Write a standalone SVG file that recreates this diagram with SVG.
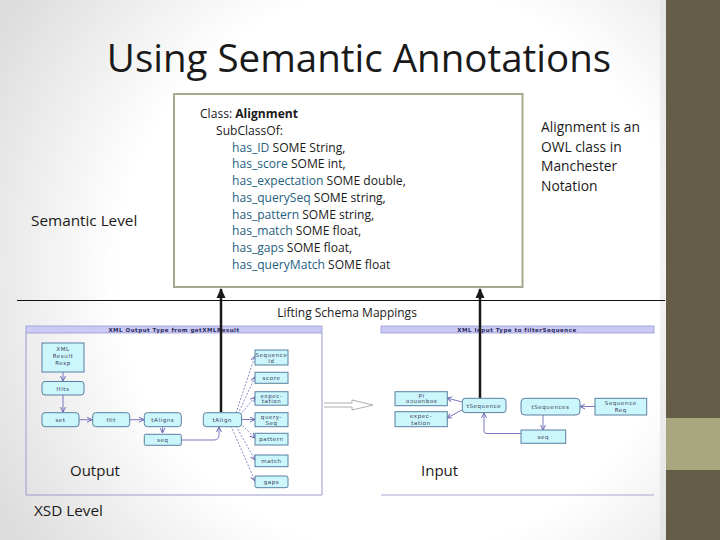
<svg xmlns="http://www.w3.org/2000/svg" width="720" height="540" viewBox="0 0 720 540">
<defs>
<radialGradient id="bg" cx="400" cy="270" r="470" gradientUnits="userSpaceOnUse">
<stop offset="0.6" stop-color="#ffffff"/>
<stop offset="1" stop-color="#dcdcdc"/>
</radialGradient>
<linearGradient id="strip" x1="0" y1="0" x2="0" y2="1">
<stop offset="0" stop-color="#e6e6e6"/>
<stop offset="0.5" stop-color="#f6f4f2"/>
<stop offset="1" stop-color="#e4e4e4"/>
</linearGradient>
<marker id="big" markerWidth="10" markerHeight="10" refX="9" refY="5" orient="auto" markerUnits="userSpaceOnUse">
<path d="M0,0.5 L10,5 L0,9.5 Z" fill="#1a1a1a"/>
</marker>
<marker id="sm" markerWidth="6" markerHeight="6" refX="5" refY="3" orient="auto" markerUnits="userSpaceOnUse">
<path d="M0,0.5 L5,3 L0,5.5" fill="none" stroke="#6a6ab4" stroke-width="1"/>
</marker>
</defs>
<style>
.t{font-family:"Open Sans","Liberation Sans",sans-serif;fill:#1a1a1a}
.p{fill:#1f5f80}
.n{fill:#cbf6fb;stroke:#5b7fa2;stroke-width:1}
.s{font-family:"DejaVu Sans",sans-serif;font-size:5.5px;fill:#3a3a5a;letter-spacing:0.6px;text-anchor:middle}
.c{fill:none;stroke:#6a6ab4;stroke-width:0.9}
.d{fill:none;stroke:#6a6ab4;stroke-width:0.8;stroke-dasharray:2 1.5}
.hdr{fill:#cacaf4;stroke:#9a9ad4;stroke-width:0.8}
.hd{font-family:"DejaVu Sans",sans-serif;font-size:5.5px;font-weight:bold;fill:#2a2a5a;letter-spacing:0.5px;text-anchor:middle}
.pan{fill:none;stroke:#9a9acc;stroke-width:1}
.bl{stroke:#1a1a1a;stroke-width:2.5;fill:none}
</style>
<rect width="720" height="540" fill="url(#bg)"/>
<rect x="660" y="0" width="6" height="540" fill="url(#strip)"/>
<rect x="666" y="0" width="54" height="540" fill="#655d48"/>
<rect x="666" y="418" width="54" height="52" fill="#a9a77f"/>

<text class="t" x="359" y="72" font-size="38.5" text-anchor="middle">Using Semantic Annotations</text>

<g id="owl-box">
<rect x="174" y="94" width="348.5" height="193" fill="#ffffff" stroke="#a8a890" stroke-width="2"/>
<text class="t" font-size="12.1">
<tspan x="200" y="118">Class: <tspan font-weight="bold">Alignment</tspan></tspan>
<tspan x="216" y="135">SubClassOf:</tspan>
<tspan x="232" y="151.5"><tspan class="p">has_ID</tspan> SOME String,</tspan>
<tspan x="232" y="168.3"><tspan class="p">has_score</tspan> SOME int,</tspan>
<tspan x="232" y="185"><tspan class="p">has_expectation</tspan> SOME double,</tspan>
<tspan x="232" y="201.8"><tspan class="p">has_querySeq</tspan> SOME string,</tspan>
<tspan x="232" y="218.5"><tspan class="p">has_pattern</tspan> SOME string,</tspan>
<tspan x="232" y="235.3"><tspan class="p">has_match</tspan> SOME float,</tspan>
<tspan x="232" y="252"><tspan class="p">has_gaps</tspan> SOME float,</tspan>
<tspan x="232" y="268.8"><tspan class="p">has_queryMatch</tspan> SOME float</tspan>
</text>
</g>

<g id="note">
<text class="t" font-size="13.8">
<tspan x="541" y="132">Alignment is an</tspan>
<tspan x="541" y="151.5">OWL class in</tspan>
<tspan x="541" y="171">Manchester</tspan>
<tspan x="541" y="190.5">Notation</tspan>
</text>
</g>

<text class="t" x="31" y="226" font-size="15.3" fill="#333">Semantic Level</text>
<line x1="17" y1="300.5" x2="665" y2="300.5" stroke="#111" stroke-width="1"/>
<text class="t" x="347" y="317" font-size="12" text-anchor="middle">Lifting Schema Mappings</text>

<g id="output-panel">
<rect class="hdr" x="26" y="326" width="296" height="7"/>
<text class="hd" x="174" y="331.5">XML Output Type from getXMLResult</text>
<path class="pan" d="M26,333 V495 H322 V333"/>
<text class="t" x="70" y="476" font-size="15">Output</text>
</g>

<g id="input-panel">
<rect class="hdr" x="381" y="326" width="273" height="7"/>
<text class="hd" x="517" y="331.5">XML Input Type to filterSequence</text>
<line x1="381" y1="495" x2="654" y2="495" stroke="#a8a8cc" stroke-width="1"/>
<text class="t" x="421" y="476" font-size="15">Input</text>
</g>

<text class="t" x="34" y="516" font-size="15.3" fill="#1f5f80">XSD Level</text>

<g id="connectors">
<path class="c" d="M63,372 V381" marker-end="url(#sm)"/>
<path class="c" d="M63,395 V412" marker-end="url(#sm)"/>
<path class="c" d="M79,419.7 H92" marker-end="url(#sm)"/>
<path class="c" d="M130,419.7 H144" marker-end="url(#sm)"/>
<path class="c" d="M162.5,427 V433" marker-end="url(#sm)"/>
<path class="c" d="M181,440 H214 Q219,440 219,435 V427" marker-end="url(#sm)"/>
<path class="d" d="M236,413 L255,356" marker-end="url(#sm)"/>
<path class="d" d="M238,414 L255,377" marker-end="url(#sm)"/>
<path class="d" d="M240,415 L255,397" marker-end="url(#sm)"/>
<path class="c" d="M241.5,419.5 H255" marker-end="url(#sm)"/>
<path class="d" d="M240,423 L255,438" marker-end="url(#sm)"/>
<path class="d" d="M236,426 L255,460" marker-end="url(#sm)"/>
<path class="d" d="M231,426 L255,481" marker-end="url(#sm)"/>
<path class="c" d="M462,402 L447,398" marker-end="url(#sm)"/>
<path class="c" d="M462,410 L447,418" marker-end="url(#sm)"/>
<path class="c" d="M595,406.5 H580" marker-end="url(#sm)"/>
<path class="c" d="M543,415 V430" marker-end="url(#sm)"/>
<path class="c" d="M521,433.5 H486 Q484,433.5 484,431 V413" marker-end="url(#sm)"/>
<path d="M324,403 H352 V400 L373,405 L352,410 V407 H324" fill="none" stroke="#9a9a9a" stroke-width="0.8"/>
<path class="bl" d="M221,412 V289" marker-end="url(#big)"/>
<path class="bl" d="M480,398 V289" marker-end="url(#big)"/>
</g>

<g id="n-xml"><rect class="n" x="42" y="343" width="42" height="29"/><text class="s"><tspan x="63" y="351">XML</tspan><tspan x="63" y="358">Result</tspan><tspan x="63" y="365">Resp</tspan></text></g>
<g id="n-hits"><rect class="n" x="42" y="381.5" width="42" height="13.5" rx="3"/><text class="s" x="63" y="390.5">Hits</text></g>
<g id="n-set"><rect class="n" x="42" y="412.7" width="37" height="14" rx="3"/><text class="s" x="60.5" y="421.8">set</text></g>
<g id="n-hit"><rect class="n" x="92.7" y="412.7" width="37" height="14" rx="3"/><text class="s" x="111.2" y="421.8">Hit</text></g>
<g id="n-taligns"><rect class="n" x="144.3" y="412.7" width="37" height="14" rx="3"/><text class="s" x="162.8" y="421.8">tAligns</text></g>
<g id="n-seq1"><rect class="n" x="144.3" y="434.3" width="37" height="11" rx="1"/><text class="s" x="162.8" y="442">seq</text></g>
<g id="n-talign"><rect class="n" x="203.3" y="412.7" width="38.3" height="14" rx="3"/><text class="s" x="222.4" y="421.8">tAlign</text></g>
<g id="n-seqid"><rect class="n" x="255" y="350" width="33" height="15"/><text class="s"><tspan x="271.5" y="356.5">Sequence</tspan><tspan x="271.5" y="362.5">Id</tspan></text></g>
<g id="n-score"><rect class="n" x="255" y="372.3" width="33" height="11"/><text class="s" x="271.5" y="380">score</text></g>
<g id="n-expec1"><rect class="n" x="255" y="391.7" width="33" height="13.5"/><text class="s"><tspan x="271.5" y="397.5">expec-</tspan><tspan x="271.5" y="403">tation</tspan></text></g>
<g id="n-qseq"><rect class="n" x="255" y="412.7" width="33" height="14"/><text class="s"><tspan x="271.5" y="418.5">query-</tspan><tspan x="271.5" y="424.5">Seq</tspan></text></g>
<g id="n-pattern"><rect class="n" x="255" y="433.3" width="33" height="11.7"/><text class="s" x="271.5" y="441.3">pattern</text></g>
<g id="n-match"><rect class="n" x="255" y="455" width="33" height="11.7"/><text class="s" x="271.5" y="463">match</text></g>
<g id="n-gaps"><rect class="n" x="255" y="476" width="33" height="11.7" rx="2"/><text class="s" x="271.5" y="484">gaps</text></g>

<g id="i-seqid"><rect class="n" x="395" y="391.7" width="52.3" height="14"/><text class="s" transform="rotate(180 421 398.7)"><tspan x="421" y="397">sequence</tspan><tspan x="421" y="403">id</tspan></text></g>
<g id="i-expec"><rect class="n" x="395" y="411.7" width="52.3" height="15"/><text class="s"><tspan x="421" y="418">expec-</tspan><tspan x="421" y="424.5">tation</tspan></text></g>
<g id="i-tseq"><rect class="n" x="462.3" y="398.3" width="43.7" height="14.3" rx="3"/><text class="s" x="484" y="407.5">tSequence</text></g>
<g id="i-tseqs"><rect class="n" x="521" y="398.3" width="59" height="16.7" rx="4"/><text class="s" x="550.5" y="408.5">tSequences</text></g>
<g id="i-seqreq"><rect class="n" x="595" y="398.3" width="51.7" height="16.7"/><text class="s"><tspan x="620.8" y="405">Sequence</tspan><tspan x="620.8" y="411.5">Req</tspan></text></g>
<g id="i-seq"><rect class="n" x="521" y="430" width="44.7" height="13.3"/><text class="s" x="543.3" y="438.7">seq</text></g>
</svg>
